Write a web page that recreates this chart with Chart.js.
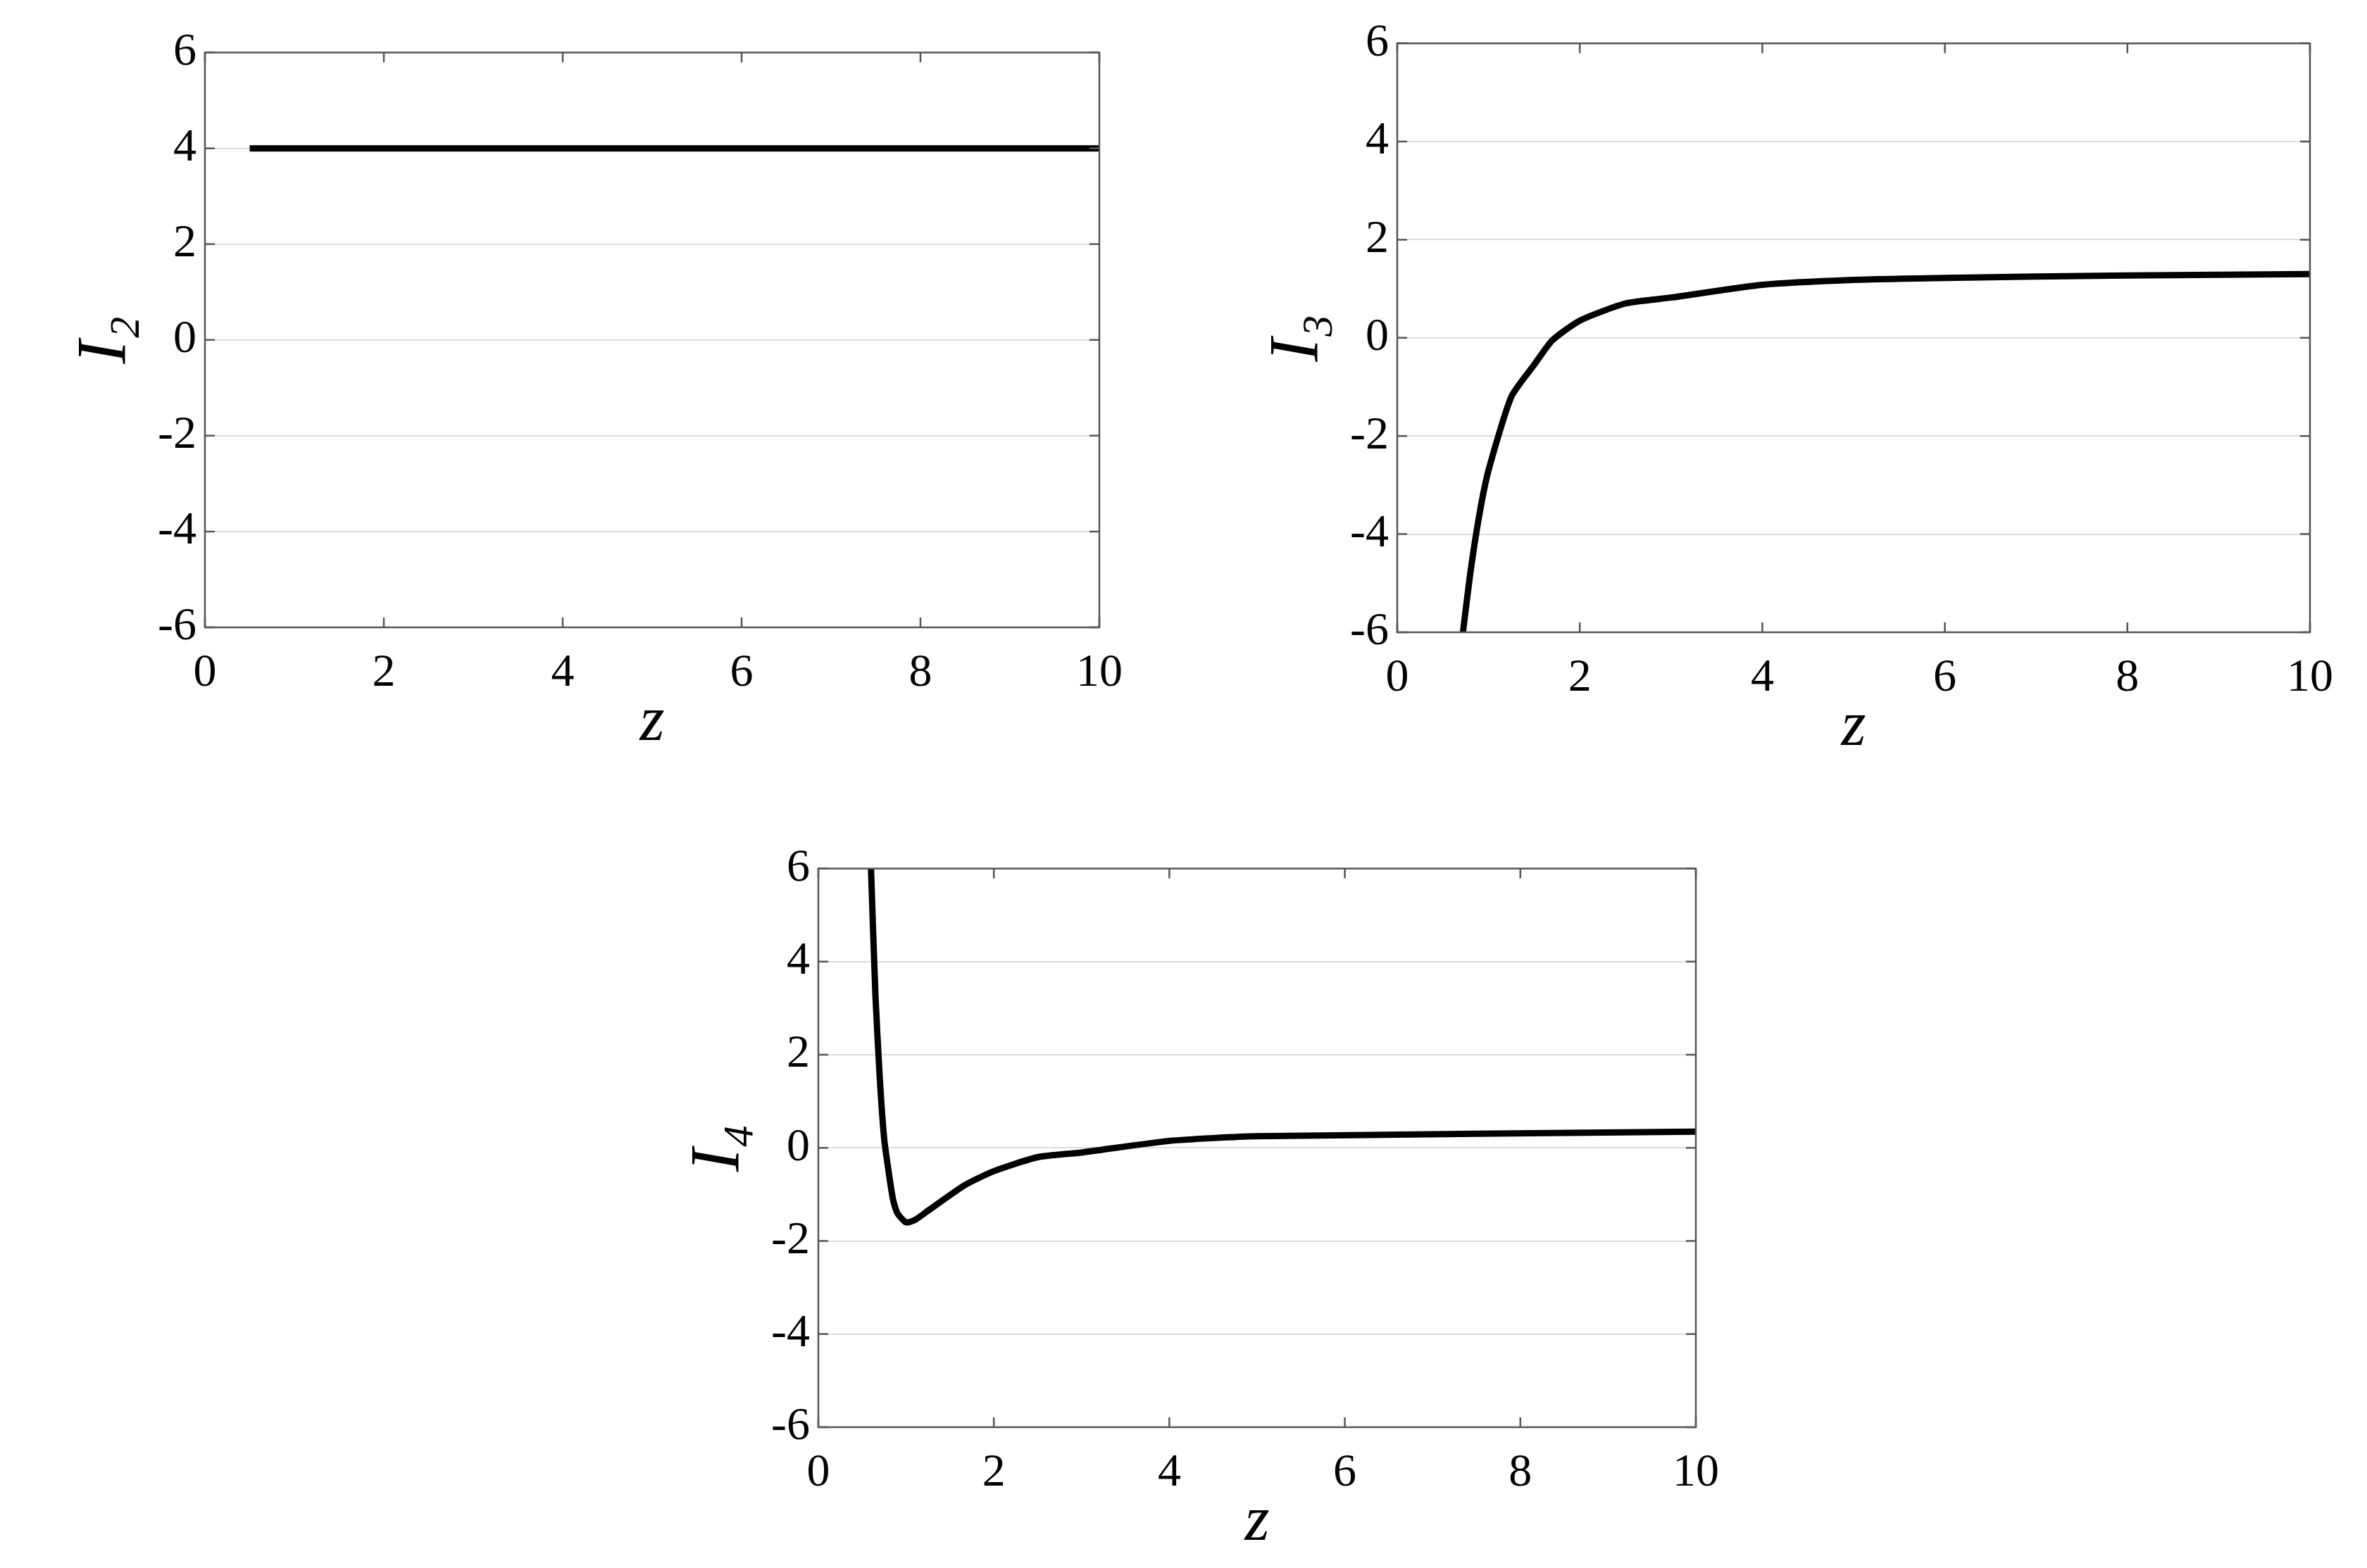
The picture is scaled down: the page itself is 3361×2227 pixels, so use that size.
<!DOCTYPE html>
<html>
<head>
<meta charset="utf-8">
<script src="https://cdn.jsdelivr.net/npm/chart.js@4"></script>
<style>
  body { margin: 0; background: #fff; width: 3361px; height: 2227px; position: relative; overflow: hidden; }
  .box { position: absolute; }
</style>
</head>
<body>
<div class="box" id="b1"><canvas id="c1"></canvas></div>
<div class="box" id="b2"><canvas id="c2"></canvas></div>
<div class="box" id="b3"><canvas id="c3"></canvas></div>
<script>
// data
const yTicks = [-6, -4, -2, 0, 2, 4, 6];
const xTicks = [0, 2, 4, 6, 8, 10];

const z2 = [0.5, 1, 2, 3, 4, 5, 6, 7, 8, 9, 10];
const i2 = [4, 4, 4, 4, 4, 4, 4, 4, 4, 4, 4];

const z3 = [0.72, 0.8, 0.9, 1.0, 1.25, 1.5, 1.7, 2.0, 2.5, 3.0, 4.0, 5.0, 6.0, 7.0, 8.0, 10.0];
const i3 = [-6, -4.8, -3.6, -2.7, -1.2, -0.55, -0.05, 0.35, 0.7, 0.82, 1.08, 1.18, 1.22, 1.25, 1.27, 1.3];

const z4 = [0.6, 0.65, 0.7, 0.75, 0.8, 0.85, 0.9, 1.0, 1.1, 1.25, 1.67, 2.0, 2.5, 3.0, 4.0, 5.0, 10.0];
const i4 = [6, 3.3, 1.5, 0.2, -0.5, -1.1, -1.4, -1.6, -1.55, -1.35, -0.8, -0.5, -0.2, -0.1, 0.15, 0.25, 0.35];

// plot area targets: [left, top, width, height]
const panels = [
  { id: "1", area: [291, 73, 1271, 818], z: z2, v: i2, label: "I₂" },
  { id: "2", area: [1984, 60, 1297, 838], z: z3, v: i3, label: "I₃" },
  { id: "3", area: [1162, 1232, 1247, 795], z: z4, v: i4, label: "I₄" },
];

const AXW = 200, AXH = 190, PADT = 20, PADR = 50, LBL = 30;
const font = "'Liberation Serif', 'Times New Roman', serif";

const frame = {
  id: "frame",
  afterDraw(chart) {
    const { ctx, chartArea: a, scales } = chart;
    ctx.save();
    ctx.strokeStyle = "#555";
    ctx.lineWidth = 2.5;
    ctx.strokeRect(a.left, a.top, a.right - a.left, a.bottom - a.top);
    // inward tick marks
    xTicks.forEach((t) => {
      const x = scales.x.getPixelForValue(t);
      ctx.beginPath();
      ctx.moveTo(x, a.bottom); ctx.lineTo(x, a.bottom - 14);
      ctx.moveTo(x, a.top); ctx.lineTo(x, a.top + 14);
      ctx.stroke();
    });
    yTicks.forEach((t) => {
      const y = scales.y.getPixelForValue(t);
      ctx.beginPath();
      ctx.moveTo(a.left, y); ctx.lineTo(a.left + 14, y);
      ctx.moveTo(a.right, y); ctx.lineTo(a.right - 14, y);
      ctx.stroke();
    });
    ctx.restore();
  },
};

function draw() {
  panels.forEach((p) => {
    const [l, t, w, h] = p.area;
    const box = document.getElementById("b" + p.id);
    box.style.left = (l - AXW) + "px";
    box.style.top = (t - PADT - LBL) + "px";
    box.style.width = (w + AXW + PADR) + "px";
    box.style.height = (h + PADT + LBL + AXH) + "px";

    new Chart(document.getElementById("c" + p.id), {
      type: "line",
      data: {
        datasets: [{
          data: p.z.map((x, i) => ({ x, y: p.v[i] })),
          borderColor: "#000",
          borderWidth: 9,
          pointRadius: 0,
          tension: 0.2,
          clip: 6,
        }],
      },
      plugins: [frame],
      options: {
        responsive: true,
        maintainAspectRatio: false,
        animation: false,
        layout: { padding: { top: PADT, right: PADR, left: 0, bottom: 0 } },
        plugins: { legend: { display: false }, tooltip: { enabled: false } },
        scales: {
          x: {
            type: "linear", min: 0, max: 10,
            afterFit: (s) => { s.height = AXH; },
            afterBuildTicks: (s) => { s.ticks = xTicks.map((v) => ({ value: v })); },
            grid: { display: false },
            border: { display: false },
            ticks: { color: "#000", font: { family: font, size: 66 }, padding: 18, maxRotation: 0 },
            title: { display: true, text: "z", color: "#000", padding: 0,
                     font: { family: font, size: 90, style: "italic" } },
          },
          y: {
            min: -6, max: 6,
            afterFit: (s) => { s.width = AXW; },
            afterBuildTicks: (s) => { s.ticks = yTicks.map((v) => ({ value: v })); },
            grid: { color: "#dcdcdc", lineWidth: 2, drawTicks: false },
            border: { display: false },
            ticks: { color: "#000", font: { family: font, size: 66 }, padding: 12 },
            title: { display: true, text: p.label, color: "#000", padding: 0,
                     font: { family: font, size: 100, style: "italic" } },
          },
        },
      },
    });
  });
}

Promise.all([
  document.fonts.load("66px 'Liberation Serif'"),
  document.fonts.load("italic 90px 'Liberation Serif'"),
]).then(draw, draw);
</script>
</body>
</html>
